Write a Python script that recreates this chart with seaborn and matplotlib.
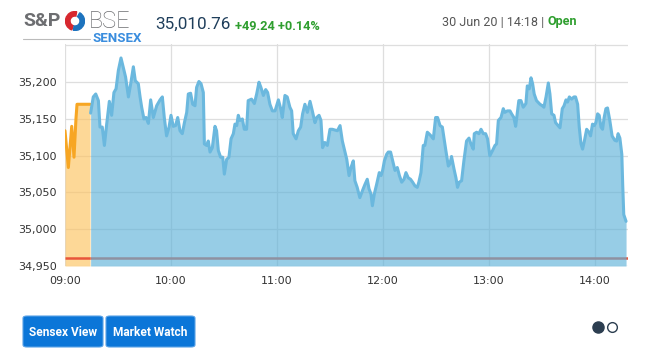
import numpy as np
import pandas as pd
import matplotlib.pyplot as plt
import seaborn as sns
from matplotlib.lines import Line2D
from matplotlib.patches import FancyBboxPatch, Wedge

# Sensex intraday, 30 Jun 2020 (minutes after 09:00)
pre_minutes = [0, 1.9, 3.8, 5.1, 6.2, 6.8, 14.2]
pre_values = [35134, 35084, 35140, 35098, 35150, 35170, 35170]

minutes = [
    14.5, 16.0, 17.4, 18.9, 19.8, 21.1, 22.3, 23.6, 25.1, 26.4, 27.7, 28.9, 30.2, 31.7, 33.0,
    34.3, 35.9, 37.2, 38.7, 39.8, 41.5, 42.5, 43.4, 44.7, 45.9, 47.2, 48.5, 50.0, 51.9,
    53.8, 55.1, 56.2, 57.5, 58.9, 60.0, 61.3, 62.6, 63.8, 65.1, 66.4, 67.6, 68.9, 69.8, 71.1,
    72.3, 73.6, 74.5, 75.8, 77.0, 78.3, 78.9, 80.2, 81.1, 82.1, 83.4, 84.9, 85.8, 86.8, 88.1,
    89.3, 90.2, 91.5, 92.8, 94.0, 95.3, 96.2, 97.2, 98.1, 99.0, 100.4, 101.5, 102.8, 103.7, 105.6,
    107.2, 108.5, 109.8, 110.9, 112.3, 113.6, 114.7, 116.0, 117.4, 118.9, 120.8, 122.1, 123.0,
    124.5, 125.8, 127.3, 128.3, 129.2, 130.8, 132.1, 133.4, 134.5, 135.8, 137.2, 138.7, 140.0,
    141.5, 142.5, 143.8, 144.9, 145.8, 147.1, 148.5, 150.0, 151.3, 152.8, 154.2, 155.7, 157.0,
    158.1, 159.5, 160.8,
    161.9, 163.2, 164.1, 165.4, 166.9, 168.3, 169.8, 171.1, 172.1, 173.2, 174.0, 175.1, 176.4,
    177.9, 178.9, 179.8, 180.8, 182.1, 183.0, 184.3, 185.5, 186.8, 188.1, 189.3, 190.6, 191.9,
    193.0, 194.3, 195.6, 196.8, 198.1, 199.4, 200.3, 201.5, 202.8, 203.7, 205.1, 206.0, 207.2,
    208.5, 209.8, 210.9, 212.3, 213.6,
    215.6, 217.0, 217.9, 218.8, 220.2, 221.3, 222.2, 223.2, 224.5, 225.8, 227.3, 228.7, 229.8,
    231.1, 231.7, 233.0, 234.3, 235.5, 236.8, 238.1, 239.2, 240.5, 242.0, 243.4, 244.3, 245.3,
    246.8, 248.1, 249.0, 250.4, 251.9, 252.8, 254.1, 255.1, 256.0, 256.9, 258.1, 259.4, 260.9,
    261.7, 262.8, 263.8, 264.7, 265.6, 266.9,
    268.9, 270.2, 271.1, 272.3, 273.6, 274.5, 275.5, 276.8, 277.7, 278.8, 280.2, 281.5, 282.5,
    283.6, 284.5, 285.5, 286.8, 288.1, 289.0, 290.2, 291.1, 292.1, 293.0, 294.0, 295.3, 296.6,
    297.5, 298.6, 299.6, 300.5, 301.5, 302.4, 303.4, 304.3, 305.2, 306.2, 307.1, 308.4, 309.7,
    311.2, 312.3, 313.1, 314.1, 315.2, 315.7, 316.3, 317.6,
]
values = [
    35158, 35180, 35184, 35175, 35139, 35139, 35114, 35143, 35174, 35155, 35186, 35191, 35216, 35233, 35220,
    35207, 35180, 35198, 35221, 35202, 35198, 35180, 35166, 35150, 35152, 35144, 35176, 35152, 35168,
    35176, 35180, 35152, 35127, 35139, 35155, 35140, 35141, 35152, 35134, 35130, 35145, 35159, 35184, 35185,
    35170, 35168, 35193, 35201, 35198, 35186, 35116, 35114, 35120, 35105, 35111, 35140, 35134, 35107, 35098,
    35098, 35075, 35095, 35098, 35123, 35130, 35143, 35141, 35155, 35148, 35150, 35136, 35136, 35175, 35177,
    35171, 35184, 35200, 35193, 35182, 35190, 35186, 35170, 35161, 35161, 35176, 35164, 35152,
    35182, 35180, 35166, 35161, 35130, 35123, 35134, 35139, 35157, 35170, 35159, 35174, 35161,
    35145, 35152, 35155, 35148, 35111, 35118, 35114, 35136, 35136, 35135, 35134, 35141, 35120,
    35109, 35095, 35073,
    35084, 35093, 35066, 35057, 35043, 35052, 35061, 35068, 35055, 35048, 35032, 35048, 35061,
    35077, 35073, 35080, 35093, 35102, 35105, 35105, 35093, 35080, 35084, 35073, 35064, 35068,
    35077, 35070, 35068, 35064, 35059, 35057, 35064, 35077, 35114, 35114, 35132, 35130, 35127,
    35123, 35152, 35152, 35141, 35139,
    35107, 35086, 35089, 35099, 35082, 35070, 35057, 35064, 35066, 35093, 35120, 35124, 35116,
    35109, 35130, 35132, 35130, 35136, 35130, 35130, 35123, 35100, 35107, 35114, 35116, 35148,
    35152, 35164, 35159, 35161, 35161, 35157, 35152, 35140, 35157, 35175, 35175, 35166, 35171,
    35195, 35191, 35206, 35198, 35184, 35175,
    35170, 35168, 35166, 35180, 35199, 35184, 35157, 35155, 35145, 35142, 35138, 35164, 35168,
    35176, 35173, 35180, 35177, 35180, 35180, 35170, 35139, 35116, 35109, 35120, 35136, 35132,
    35127, 35143, 35141, 35145, 35157, 35155, 35139, 35136, 35152, 35164, 35165, 35148, 35127,
    35121, 35120, 35130, 35124, 35102, 35061, 35020, 35010.76,
]

prev_close = 34961.52
y_ticks = [34950, 35000, 35050, 35100, 35150, 35200, 35250]
x_ticks = [0, 60, 120, 180, 240, 300]
x_labels = ["09:00", "10:00", "11:00", "12:00", "13:00", "14:00"]

df = pd.DataFrame({"minute": minutes, "value": values})
pre = pd.DataFrame({"minute": pre_minutes, "value": pre_values})

sns.set_style("white")
plt.rcParams["font.family"] = ["DejaVu Sans"]

W, H = 647, 358
fig = plt.figure(figsize=(W / 100, H / 100), dpi=100)
ax = fig.add_axes([65 / W, 1 - 266 / H, (628 - 65) / W, (266 - 44) / H])

# pre-open (orange) and session (blue)
ax.fill_between(pre["minute"], pre["value"], 34950, color="#fdc360", alpha=0.65, lw=0, zorder=2)
ax.hlines(prev_close, 0, 14.3, color="#e8553a", lw=1.8, zorder=3)
ax.hlines(prev_close, 14.3, 318.7, color="#e8553a", lw=1.8, zorder=2)
ax.fill_between(df["minute"], df["value"], 34950, color="#5fb2d9", alpha=0.65, lw=0, zorder=3)
sns.lineplot(data=pre, x="minute", y="value", ax=ax, color="#f7a623", linewidth=2.2, zorder=4)
sns.lineplot(data=df, x="minute", y="value", ax=ax, color="#6bb8de", linewidth=2.2, zorder=4)

ax.set_xlim(0, 318.7)
ax.set_ylim(34950, 35252)
ax.set_yticks(y_ticks)
ax.set_yticklabels([f"{v:,}" if v < 35250 else "" for v in y_ticks])
ax.set_xticks(x_ticks)
ax.set_xticklabels(x_labels)
ax.set_xlabel("")
ax.set_ylabel("")
ax.grid(True, color="#dedede", linewidth=0.9)
ax.set_axisbelow(True)
for s in ax.spines.values():
    s.set_visible(False)
ax.tick_params(axis="both", length=0, labelsize=8, colors="#333333")
ax.tick_params(axis="y", pad=6)
ax.tick_params(axis="x", pad=7)

# header
hf = ["Roboto", "DejaVu Sans"]
fig.text(23 / W, 1 - 21 / H, "S&P", family=hf, fontsize=14, fontweight="bold",
         color="#6d6e71", va="center", ha="left")
fig.text(89 / W, 1 - 21 / H, "BSE", family=hf, fontsize=17, fontweight="light",
         color="#6d6e71", va="center", ha="left")
fig.text(142 / W, 1 - 38 / H, "SENSEX", family=hf, fontsize=9.5, fontweight="bold",
         color="#3a8dde", va="center", ha="right")
fig.add_artist(Line2D([23 / W, 90 / W], [1 - 39 / H, 1 - 39 / H], color="#bbbbbb", lw=0.8))
logo = fig.add_axes([64 / W, 1 - 31 / H, 22 / W, 20 / H])
logo.set_xlim(-1, 1)
logo.set_ylim(-1, 1)
logo.set_aspect("equal")
logo.axis("off")
logo.add_patch(Wedge((0, 0), 0.95, 80, 250, width=0.45, color="#d7282f"))
logo.add_patch(Wedge((0, 0), 0.95, 260, 60, width=0.45, color="#1d73be"))

fig.text(155 / W, 1 - 24 / H, "35,010.76", family=hf, fontsize=12.3,
         color="#1f3e5b", va="center", ha="left")
fig.text(235 / W, 1 - 26 / H, "+49.24 +0.14%", family=hf, fontsize=9.2, fontweight="bold",
         color="#2e9e2e", va="center", ha="left")
date_txt = fig.text(442 / W, 1 - 22 / H, "30 Jun 20 | 14:18 |", family=hf, fontsize=9,
                    color="#555555", va="center", ha="left")
fig.canvas.draw()
bb = date_txt.get_window_extent()
fig.text((bb.x1 + 3) / W, 1 - 22 / H, "Open", family=hf, fontsize=9, fontweight="bold",
         color="#2e9e2e", va="center", ha="left")

# buttons
for x0, x1, label in [(23, 103, "Sensex View"), (106, 195, "Market Watch")]:
    fig.add_artist(FancyBboxPatch((x0 / W, 1 - 347 / H), (x1 - x0) / W, 31 / H,
                                  boxstyle="round,pad=0,rounding_size=0.006",
                                  transform=fig.transFigure, facecolor="#0b76d8",
                                  edgecolor="#5aa2e6", lw=0.8))
    fig.text((x0 + x1) / 2 / W, 1 - 332 / H, label, family=hf, fontsize=8.6, fontweight="bold",
             color="white", va="center", ha="center")

fig.add_artist(Line2D([598 / W], [1 - 327 / H], marker="o", markersize=8,
                      color="#2c3e50", transform=fig.transFigure))
fig.add_artist(Line2D([612 / W], [1 - 327 / H], marker="o", markersize=7, markerfacecolor="white",
                      markeredgecolor="#2c3e50", markeredgewidth=1, color="none",
                      transform=fig.transFigure))

fig.savefig("out.png", dpi=100)
